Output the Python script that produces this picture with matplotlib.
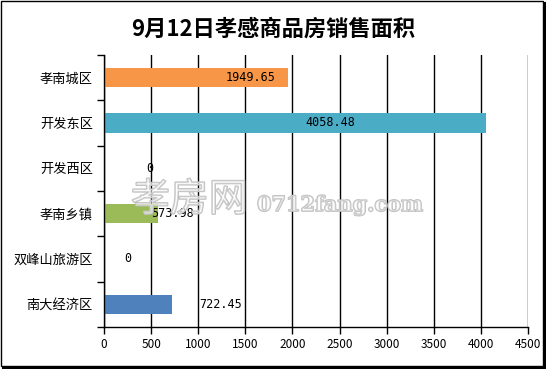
import matplotlib
matplotlib.use("Agg")
import matplotlib.pyplot as plt
import matplotlib.patheffects as pe
from matplotlib.patches import Rectangle

plt.rcParams['font.family'] = ['Noto Sans CJK SC', 'DejaVu Sans']

categories = ["孝南城区", "开发东区", "开发西区", "孝南乡镇", "双峰山旅游区", "南大经济区"]
values = [1949.65, 4058.48, 0, 573.98, 0, 722.45]
value_labels = ["1949.65", "4058.48", "0", "573.98", "0", "722.45"]
colors = ["#F79646", "#4BACC6", "#F79646", "#9BBB59", "#F79646", "#4F81BD"]
label_x = [1560, 2400, 488, 732, 255, 1242]
xticks = [0, 500, 1000, 1500, 2000, 2500, 3000, 3500, 4000, 4500]
title = "9月12日孝感商品房销售面积"

W, H = 546, 369
fig = plt.figure(figsize=(W/100, H/100), dpi=100)
ax = fig.add_axes([104/W, 1-327/H, 424/W, 272/H])

pos = list(range(len(categories)))
ax.barh(pos, values, height=0.42, color=colors, zorder=3)
ax.set_ylim(len(categories)-0.5, -0.5)
ax.set_xlim(0, 4500)
ax.set_xticks(xticks)
ax.set_xticklabels([str(t) for t in xticks], fontsize=8.5)
ax.set_yticks(pos)
ax.set_yticklabels(categories, fontsize=9.5)
ax.set_yticks([p + 0.5 for p in range(-1, len(categories))], minor=True)
ax.tick_params(axis='y', which='major', length=0, pad=8)
ax.tick_params(axis='y', which='minor', length=5, width=1, direction='out')
ax.tick_params(axis='x', which='major', length=5, width=1, direction='out', pad=3)
ax.xaxis.grid(True, color='black', linewidth=1, zorder=0)
for s in ['top', 'right']:
    ax.spines[s].set_visible(False)
for s in ['left', 'bottom']:
    ax.spines[s].set_linewidth(1)
    ax.spines[s].set_zorder(4)

for p, lx, txt in zip(pos, label_x, value_labels):
    ax.text(lx, p, txt, ha='center', va='center', fontsize=8.5, zorder=5,
            family=['DejaVu Sans Mono', 'DejaVu Sans'])

fig.text(0.5, 1-29/H, title, ha='center', va='center', fontsize=16, fontweight='bold')

# watermark
fig.text(131/W, 1-200/H, "孝房网", fontsize=28, color=(1, 1, 1, 0.35), va='center', ha='left',
         path_effects=[pe.withStroke(linewidth=1.2, foreground='#c0c0c0')], zorder=10)
fig.text(257/W, 1-205/H, "0712fang.com", fontsize=15, color=(1, 1, 1, 0.35), va='center', ha='left',
         family=['DejaVu Serif'], fontweight='bold',
         path_effects=[pe.withStroke(linewidth=1.2, foreground='#c0c0c0')], zorder=10)

# border
fig.patches.append(Rectangle((1/W, 3/H), (W-4)/W, (H-4)/H, transform=fig.transFigure,
                             fill=False, edgecolor='black', linewidth=1))
fig.patches.append(Rectangle(((W-3)/W, 0), 3/W, (H-2)/H, transform=fig.transFigure,
                             facecolor='black', edgecolor='none'))
fig.patches.append(Rectangle((2/W, 0), (W-2)/W, 3/H, transform=fig.transFigure,
                             facecolor='black', edgecolor='none'))

fig.savefig("out.png", dpi=100)
